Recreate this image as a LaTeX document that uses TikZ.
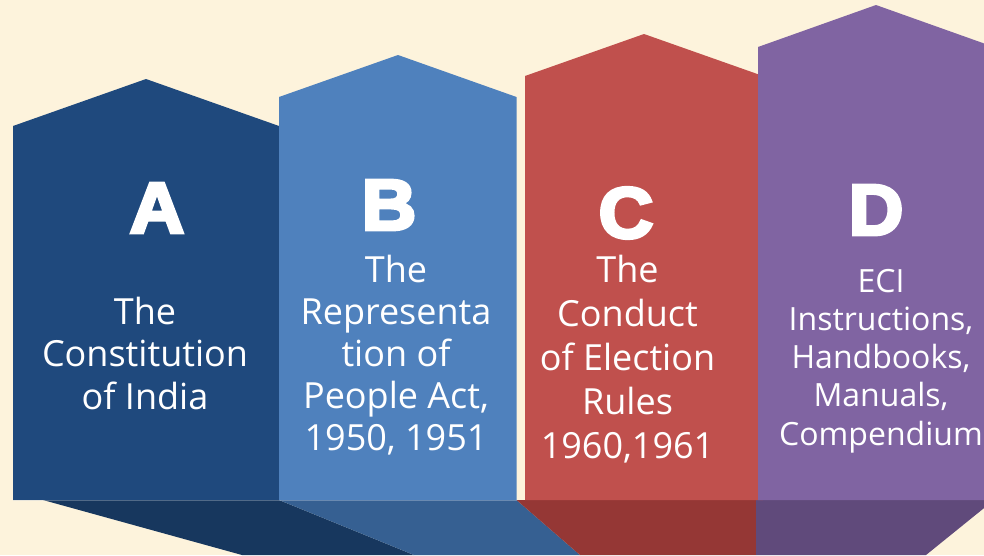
\documentclass[tikz,border=0pt]{standalone}
\usepackage{fontspec}
\setmainfont{Open Sans}
\newfontfamily\heavyfont[BoldFeatures={FakeBold=4.5}]{Liberation Sans}
\definecolor{bgc}{HTML}{FDF3DC}
\definecolor{pA}{HTML}{1F497D}
\definecolor{pB}{HTML}{4F81BD}
\definecolor{pC}{HTML}{C0504D}
\definecolor{pD}{HTML}{8064A2}
\definecolor{sA}{HTML}{17375E}
\definecolor{sB}{HTML}{366092}
\definecolor{sC}{HTML}{953735}
\definecolor{sD}{HTML}{604A7B}
\begin{document}
\begin{tikzpicture}[x=1pt,y=-1pt,
  letter/.style={text=white,inner sep=0pt,xscale=1.05,font=\heavyfont\bfseries\fontsize{72}{72}\selectfont},
  body/.style={text=white,inner sep=0pt,align=center,anchor=base,font=\fontsize{36}{#1}\selectfont},
  bodysmall/.style={text=white,inner sep=0pt,align=center,anchor=base,font=\fontsize{32}{38.25}\selectfont}]
\useasboundingbox (0,0) rectangle (984,555);
\clip (0,0) rectangle (984,555);
\fill[bgc] (0,0) rectangle (984,555);
% shadows
\fill[sA] (43,500) -- (279,500) -- (414,555) -- (242,555) -- cycle;
\fill[sB] (279,500) -- (516.5,500) -- (580,555) -- (414,555) -- cycle;
\fill[sC] (516.5,500) -- (756,500) -- (756,555) -- (580,555) -- cycle;
\fill[sD] (756,500) -- (994,500) -- (926,555) -- (756,555) -- cycle;
% panels
\fill[pA] (13,500) -- (13,126) -- (146,79) -- (279,126) -- (279,500) -- cycle;
\fill[pB] (279,500) -- (279,97) -- (398,55) -- (516.5,97) -- (516.5,500) -- cycle;
\fill[pC] (525,500) -- (525,76) -- (644,34) -- (763,76) -- (763,500) -- cycle;
\fill[pD] (758,500) -- (758,47) -- (876,5) -- (994,47) -- (994,500) -- cycle;
\draw[white,opacity=0.25,line width=1pt] (13,500) -- (516.5,500);
% letters
\node[letter] (la) at (157,208) {A};
\node[letter] (lb) at (389,205) {B};
\node[letter] (lc) at (626,213) {C};
\node[letter] (ld) at (876,210) {D};
% texts
\node[body=42.5] (ta) at (145,409) {The\\Constitution\\of India};
\node[body=42] (tb) at (396,450) {The\\Representa\\tion of\\People Act,\\1950, 1951};
\node[body=44] (tc) at (627.5,458) {The\\Conduct\\of Election\\Rules\\1960,1961};
\node[bodysmall] (td) at (881,445) {ECI\\Instructions,\\Handbooks,\\Manuals,\\Compendium};
\end{tikzpicture}
\end{document}
